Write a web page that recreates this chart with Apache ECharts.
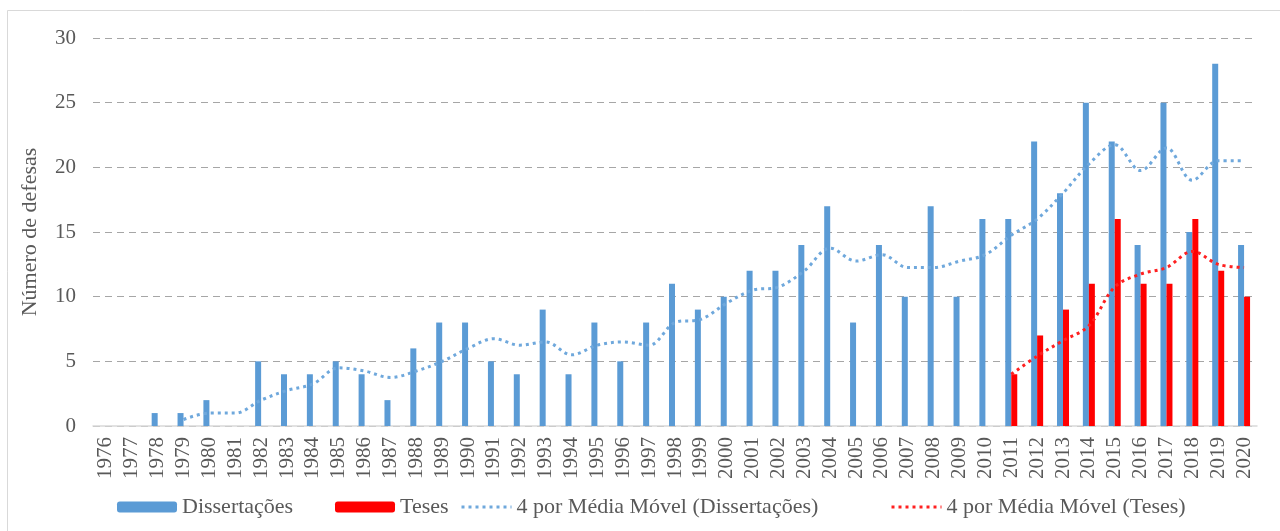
<!DOCTYPE html>
<html><head><meta charset="utf-8">
<script src="https://cdn.jsdelivr.net/npm/echarts@6/dist/echarts.min.js"></script>
<style>html,body{margin:0;padding:0;background:#fff}#c{width:1280px;height:531px}</style>
</head><body><div id="c"></div>
<script>
const years = ['1976','1977','1978','1979','1980','1981','1982','1983','1984','1985','1986','1987','1988','1989','1990','1991','1992','1993','1994','1995','1996','1997','1998','1999','2000','2001','2002','2003','2004','2005','2006','2007','2008','2009','2010','2011','2012','2013','2014','2015','2016','2017','2018','2019','2020'];
const dissertacoes = [0,0,1,1,2,0,5,4,4,5,4,2,6,8,8,5,4,9,4,8,5,8,11,9,10,12,12,14,17,8,14,10,17,10,16,16,22,18,25,22,14,25,15,28,14];
const teses = [null,null,null,null,null,null,null,null,null,null,null,null,null,null,null,null,null,null,null,null,null,null,null,null,null,null,null,null,null,null,null,null,null,null,null,4,7,9,11,16,11,11,16,12,10];
const mmDissertacoes = [null,null,null,0.5,1,1,2,2.75,3.25,4.5,4.25,3.75,4.25,5,6,6.75,6.25,6.5,5.5,6.25,6.5,6.25,8,8.25,9.5,10.5,10.75,12,13.75,12.75,13.25,12.25,12.25,12.75,13.25,14.75,16,18,20.25,21.75,19.75,21.5,19,20.5,20.5];
const mmTeses = [null,null,null,null,null,null,null,null,null,null,null,null,null,null,null,null,null,null,null,null,null,null,null,null,null,null,null,null,null,null,null,null,null,null,null,4,5.4,6.6,7.75,10.75,11.75,12.25,13.5,12.5,12.25];
const yTicks = [0,5,10,15,20,25,30];
const names = ['Dissertações','Teses','4 por Média Móvel (Dissertações)','4 por Média Móvel (Teses)'];

const FONT = '"Liberation Serif", "Times New Roman", serif';
const TXT = '#595959';
const chart = echarts.init(document.getElementById('c'), null, {renderer:'canvas'});
const legendBase = {top: 491, itemWidth: 60, itemHeight: 11, itemGap: 6,
  textStyle:{fontFamily:FONT, fontSize:22, color:TXT}, selectedMode:false};
const lineLegend = {itemWidth:50, itemStyle:{opacity:0}, lineStyle:{width:3}};
chart.setOption({
  animation:false,
  backgroundColor:'#fff',
  graphic:[{type:'rect', shape:{x:7.5,y:10.5,width:1400,height:700}, style:{fill:null, stroke:'#d9d9d9', lineWidth:1}, silent:true}],
  grid:{left:93, right:23, top:38, bottom:105, containLabel:false},
  legend:[
    Object.assign({}, legendBase, {left:112, data:[names[0]]}),
    Object.assign({}, legendBase, {left:330, data:[names[1]]}),
    Object.assign({}, legendBase, lineLegend, {left:455, data:[names[2]]}),
    Object.assign({}, legendBase, lineLegend, {left:885, data:[names[3]]})
  ],
  xAxis:{type:'category', data:years, boundaryGap:true,
    axisLine:{show:true, lineStyle:{color:'#d9d9d9', width:1.5}},
    axisTick:{show:false},
    axisLabel:{rotate:90, interval:0, margin:11, fontFamily:FONT, fontSize:21, color:TXT}},
  yAxis:{type:'value', min:0, max:30, interval:5,
    name:'Número de defesas', nameLocation:'middle', nameGap:52,
    nameTextStyle:{fontFamily:FONT, fontSize:22, color:TXT},
    axisLine:{show:false}, axisTick:{show:false},
    axisLabel:{margin:17, fontFamily:FONT, fontSize:21, color:TXT,
      formatter:(v)=> yTicks.includes(v) ? String(v) : ''},
    splitLine:{show:true, lineStyle:{color:'#a6a6a6', type:[7,5], width:1.2}}},
  series:[
    {name:names[0], type:'bar', data:dissertacoes, barWidth:6, barGap:'0%', itemStyle:{color:'#5B9BD5'}},
    {name:names[1], type:'bar', data:teses, barWidth:6, barGap:'0%', itemStyle:{color:'#FF0000'}},
    {name:names[2], type:'line', data:mmDissertacoes, symbol:'none', smooth:0.35, connectNulls:false,
      itemStyle:{color:'#6FA8DC'}, lineStyle:{color:'#6FA8DC', width:3, type:[3,4]}},
    {name:names[3], type:'line', data:mmTeses, symbol:'none', smooth:0.35,
      itemStyle:{color:'#FF2020'}, lineStyle:{color:'#FF2020', width:3, type:[3,4]}}
  ]
});
</script></body></html>
